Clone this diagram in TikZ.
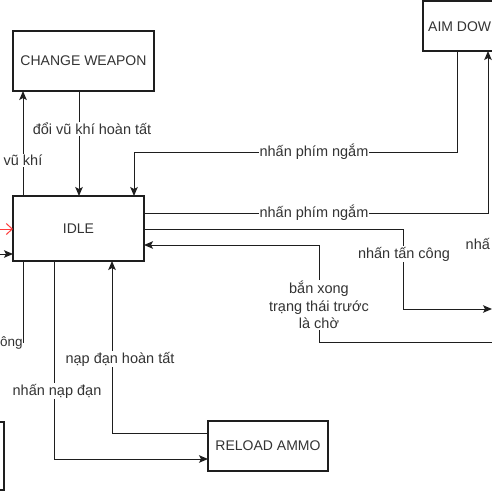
\documentclass[tikz,border=0pt]{standalone}
\usepackage{fontspec}
\setmainfont{Liberation Sans}
\usetikzlibrary{arrows.meta,calc}
\definecolor{txt}{RGB}{51,51,51}
\definecolor{ln}{RGB}{30,30,30}
\definecolor{initred}{RGB}{255,60,60}
\tikzset{
  statebox/.style={draw=ln, line width=2pt, fill=white, inner sep=0pt, outer sep=0pt,
    text=txt, font=\fontsize{14}{17}\selectfont},
  conn/.style={draw=ln, line width=1pt, -{Stealth[length=9pt,width=7.5pt,inset=2pt]}},
  plainconn/.style={draw=ln, line width=1pt},
  lbl/.style={fill=white, inner sep=1pt, text=txt, font=\fontsize{14.5}{17.5}\selectfont, align=center}
}
\begin{document}
\begin{tikzpicture}[x=1pt,y=-1pt]
\useasboundingbox (0,0) rectangle (492,492);
\clip (0,0) rectangle (492,492);
\fill[white] (0,0) rectangle (492,492);

% states
\node[statebox, minimum width=141pt, minimum height=60pt] (cw) at (83.5,61) {CHANGE WEAPON};
\node[statebox, minimum width=131pt, minimum height=65pt] (idle) at (78.5,228.5) {IDLE};
\node[statebox, minimum width=80pt, minimum height=50pt] (aim) at (463,26) {};
\node[anchor=west, inner sep=0pt, text=txt, font=\fontsize{14}{17}\selectfont] (aimtext) at (428,27) {AIM DOW};
\node[statebox, minimum width=120pt, minimum height=50pt] (reload) at (268,446) {RELOAD AMMO};
\node[statebox, minimum width=100pt, minimum height=68pt] (leftbox) at (-46,456) {};

% free ends
\coordinate (attackR) at (492,309);
\coordinate (fromR) at (520,342);
\coordinate (toL) at (-60,342);
\coordinate (initS) at (-10,229);
\coordinate (inS) at (-10,254);

% idle -> change weapon
\draw[conn] ($(idle.north west)+(10,0)$) -- ($(cw.south west)+(10,0)$)
  node[lbl, pos=0.34] {vũ khí};
% change weapon -> idle
\draw[conn] ($(cw.south west)+(66,0)$) -- ($(idle.north west)+(66,0)$);
\node[lbl] (l1) at (92,129) {đổi vũ khí hoàn tất};

% aim -> idle
\draw[conn] ($(aim.south west)+(34,0)$) |- (134,152) -- ($(idle.north west)+(121,0)$);
\node[lbl] (l2) at (314,152) {nhấn phím ngắm};
% idle -> aim
\draw[conn] ($(idle.north east)+(0,17)$) -| ($(aim.south west)+(65,0)$);
\node[lbl] (l3) at (314,213) {nhấn phím ngắm};

% idle -> attack (right)
\draw[conn] ($(idle.north east)+(0,33)$) -| (403,309) -- (attackR);
\node[lbl] (l4) at (404,254) {nhấn tấn công};
% attack -> idle
\draw[conn] (fromR) -| (319,245) -- ($(idle.north east)+(0,49)$);
\node[lbl] (l5) at (319,305) {bắn xong\\trạng thái trước\\là chờ};

% idle -> left
\draw[plainconn] ($(idle.south west)+(10,0)$) |- (toL);
\node[lbl, anchor=east, inner sep=0pt, font=\fontsize{13.5}{16}\selectfont] (l6) at (22.8,343) {ông};

% idle -> reload
\draw[conn] ($(idle.south west)+(41,0)$) |- ($(reload.west)+(0,13)$);
\node[lbl] (l7) at (57,391) {nhấn nạp đạn};
% reload -> idle
\draw[conn] ($(reload.west)+(0,-13)$) -| ($(idle.south west)+(99,0)$);
\node[lbl] (l8) at (120,359) {nạp đạn hoàn tất};

% partial label on the right
\node[lbl, anchor=west, inner sep=0.5pt] (l9) at (465,244) {nhấ};

% incoming arrows on the left
\draw[draw=initred, line width=1pt, -{Straight Barb[length=6pt,width=11pt]}] (initS) -- ($(idle.north west)+(0,33)$);
\draw[conn] (inS) -- ($(idle.north west)+(0,58)$);
\end{tikzpicture}
\end{document}
